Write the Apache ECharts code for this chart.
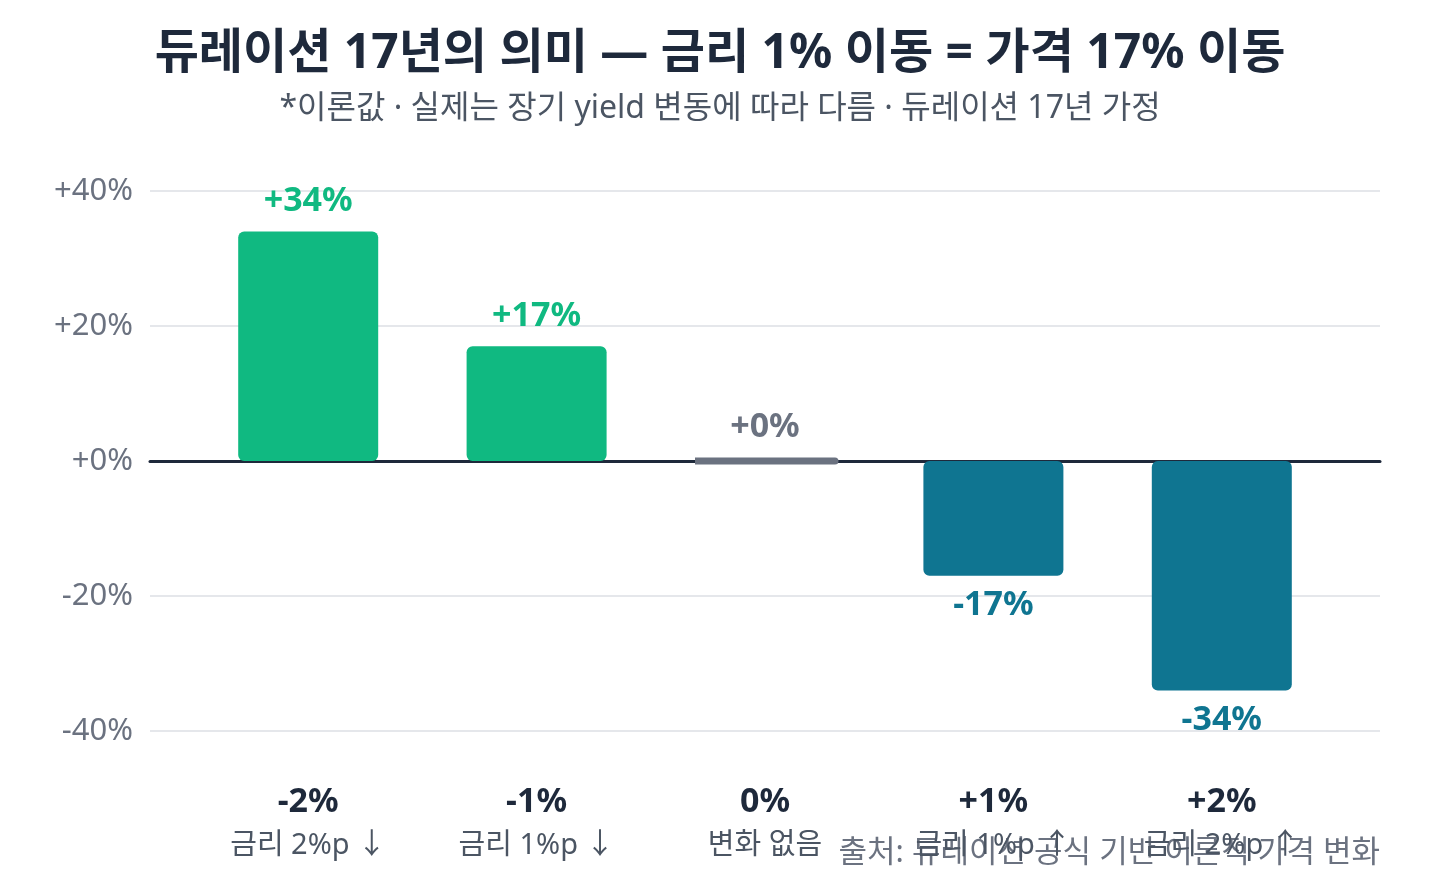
<!DOCTYPE html>
<html>
<head>
<meta charset="utf-8">
<script src="https://cdn.jsdelivr.net/npm/echarts@6/dist/echarts.min.js"></script>
<style>
  html, body { margin: 0; padding: 0; background: #fff; }
  #chart { width: 1440px; height: 884px; }
</style>
</head>
<body>
<div id="chart"></div>
<script>
  // 금리 변화 시나리오
  const rateMoves = ['-2%', '-1%', '0%', '+1%', '+2%']
  const moveNotes = ['금리 2%p ↓', '금리 1%p ↓', '변화 없음', '금리 1%p ↑', '금리 2%p ↑']
  // 듀레이션 17년 기준 가격 변화(%)
  const priceChange = [34, 17, 0, -17, -34]
  const yTicks = [-40, -20, 0, 20, 40]

  const green = '#10b981'
  const teal = '#0f7591'
  const gray = '#6b7280'
  const font = '"Noto Sans", "Noto Sans CJK KR", sans-serif'

  function fmt (v) {
    return (v >= 0 ? '+' : '') + v + '%'
  }

  let barData = priceChange.map(function (v) {
    let c = v > 0 ? green : (v < 0 ? teal : gray)
    return {
      value: v,
      itemStyle: {
        color: c,
        borderColor: c,
        borderWidth: v === 0 ? 7 : 0,
        borderJoin: 'round',
        borderRadius: 6
      },
      label: {
        position: v < 0 ? 'bottom' : 'top',
        color: c
      }
    }
  })

  let chart = echarts.init(document.getElementById('chart'))
  chart.setOption({
    animation: false,
    textStyle: { fontFamily: font },
    title: {
      text: '듀레이션 17년의 의미 — 금리 1% 이동 = 가격 17% 이동',
      subtext: '*이론값 · 실제는 장기 yield 변동에 따라 다름 · 듀레이션 17년 가정',
      left: 'center',
      top: 25,
      itemGap: 15,
      textStyle: { fontSize: 48, fontWeight: 'bold', color: '#1e293b', fontFamily: font },
      subtextStyle: { fontSize: 32, color: '#4b5563', fontFamily: font }
    },
    grid: [
      { left: 150, right: 60, top: 191, bottom: 153 },
      { left: 194, right: 104, top: 191, bottom: 153 }
    ],
    xAxis: [
      {
        gridIndex: 0,
        type: 'value',
        min: 0,
        max: 1,
        axisLine: { show: true, onZero: true, lineStyle: { color: '#1e293b', width: 3 } },
        axisTick: { show: false },
        axisLabel: { show: false },
        splitLine: { show: false }
      },
      {
        gridIndex: 1,
        type: 'category',
        data: rateMoves,
        axisLine: { show: false },
        axisTick: { show: false },
        axisLabel: {
          margin: 50,
          formatter: function (val, i) {
            return '{a|' + val + '}\n{b|' + moveNotes[i] + '}'
          },
          rich: {
            a: { fontSize: 34, fontWeight: 'bold', color: '#1e293b', lineHeight: 43, fontFamily: font },
            b: { fontSize: 29, color: '#4b5563', lineHeight: 43, fontFamily: font }
          }
        }
      }
    ],
    yAxis: [
      {
        gridIndex: 0,
        type: 'value',
        min: yTicks[0],
        max: yTicks[yTicks.length - 1],
        interval: 20,
        axisLine: { show: false },
        axisTick: { show: false },
        axisLabel: {
          margin: 17,
          fontSize: 31,
          color: gray,
          formatter: fmt
        },
        splitLine: { lineStyle: { color: '#e5e7eb', width: 2 } }
      },
      {
        gridIndex: 1,
        type: 'value',
        min: yTicks[0],
        max: yTicks[yTicks.length - 1],
        show: false,
        splitLine: { show: false }
      }
    ],
    series: [
      {
        name: '가격 변화',
        type: 'bar',
        xAxisIndex: 1,
        yAxisIndex: 1,
        barWidth: 140,
        data: barData,
        label: {
          show: true,
          distance: 13,
          fontSize: 34,
          fontWeight: 'bold',
          formatter: function (p) { return fmt(p.value) }
        }
      }
    ],
    graphic: [
      {
        type: 'text',
        right: 60,
        top: 838,
        style: {
          text: '출처: 듀레이션 공식 기반 이론적 가격 변화',
          fontSize: 31,
          fill: gray,
          fontFamily: font
        }
      }
    ]
  })
</script>
</body>
</html>
